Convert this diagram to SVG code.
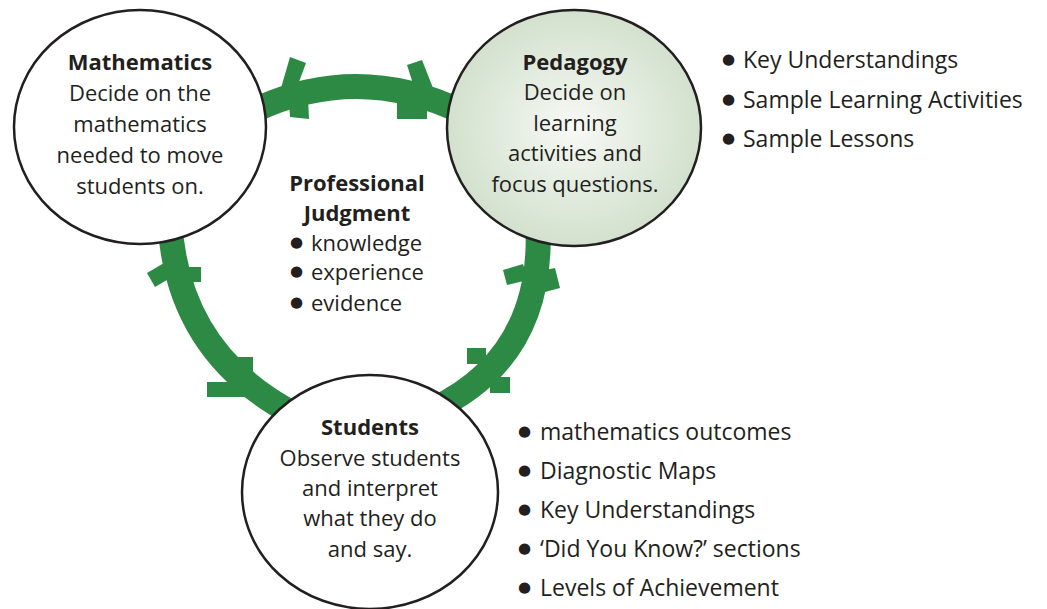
<svg xmlns="http://www.w3.org/2000/svg" width="1047" height="609" viewBox="0 0 1047 609">
<defs>
<radialGradient id="pedGrad" cx="0.5" cy="0.5" r="0.5">
<stop offset="0" stop-color="#f7f9f5"/>
<stop offset="1" stop-color="#d2e1cd"/>
</radialGradient>
<style>
text{font-family:"Open Sans","Noto Sans","DejaVu Sans",sans-serif;font-size:22px;fill:#231f20}
.b{font-weight:bold}
.c{text-anchor:middle}
.l{font-size:23px}
.dot{font-family:"DejaVu Sans",sans-serif;font-size:15px}
.node{stroke:#231f20;stroke-width:2.5}
.arc{fill:none;stroke:#2d8a45;stroke-width:25}
.tab{fill:#2d8a45}
</style>
</defs>
<rect width="1047" height="609" fill="#ffffff"/>
<g id="connectors">
<path class="arc" d="M255,110 Q358,62 462,112"/>
<path class="arc" d="M170,225 Q179,356 298,416"/>
<path class="arc" d="M538,228 Q543,358 432,410"/>
<polygon class="tab" points="290,57 306,63 296,90 279,95"/>
<polygon class="tab" points="289,100 308,98 309,119 290,117"/>
<polygon class="tab" points="407,65 422,60 433,88 416,93"/>
<polygon class="tab" points="397,100 427,100 427,119 397,119"/>
<polygon class="tab" points="147,273 155,287 172,277 164,263"/>
<polygon class="tab" points="185,267 201,267 201,282 186,282"/>
<polygon class="tab" points="228,357 253,357 253,377 240,377"/>
<polygon class="tab" points="207,382 240,382 245,397 207,397"/>
<polygon class="tab" points="503,270 523,264 528,280 507,285"/>
<polygon class="tab" points="540,271 555,268 560,288 541,293"/>
<polygon class="tab" points="467,348 486,348 486,364 467,364"/>
<polygon class="tab" points="490,377 510,377 510,393 490,393"/>
</g>
<g id="mathematics">
<ellipse class="node" cx="140" cy="127" rx="126" ry="117" fill="#ffffff"/>
<text class="b c" x="140" y="70">Mathematics</text>
<text class="c" x="140" y="101">Decide on the</text>
<text class="c" x="140" y="132">mathematics</text>
<text class="c" x="140" y="163">needed to move</text>
<text class="c" x="140" y="194">students on.</text>
</g>
<g id="pedagogy">
<ellipse class="node" cx="574" cy="128" rx="127" ry="118" fill="url(#pedGrad)"/>
<text class="b c" x="575" y="70">Pedagogy</text>
<text class="c" x="575" y="100">Decide on</text>
<text class="c" x="575" y="131">learning</text>
<text class="c" x="575" y="161">activities and</text>
<text class="c" x="575" y="192">focus questions.</text>
</g>
<g id="students">
<ellipse class="node" cx="370" cy="492" rx="128" ry="117" fill="#ffffff"/>
<text class="b c" x="370" y="435">Students</text>
<text class="c" x="370" y="466">Observe students</text>
<text class="c" x="370" y="496">and interpret</text>
<text class="c" x="370" y="526">what they do</text>
<text class="c" x="370" y="557">and say.</text>
</g>
<g id="judgment">
<text class="b c" x="357" y="191">Professional</text>
<text class="b c" x="357" y="221">Judgment</text>
<text x="290" y="251"><tspan class="dot" dy="-4">●</tspan><tspan x="311" dy="4">knowledge</tspan></text>
<text x="290" y="280"><tspan class="dot" dy="-4">●</tspan><tspan x="311" dy="4">experience</tspan></text>
<text x="290" y="311"><tspan class="dot" dy="-4">●</tspan><tspan x="311" dy="4">evidence</tspan></text>
</g>
<g id="pedagogy-list">
<text class="l" x="722" y="68"><tspan class="dot" dy="-4">●</tspan><tspan x="743" dy="4">Key Understandings</tspan></text>
<text class="l" x="722" y="108"><tspan class="dot" dy="-4">●</tspan><tspan x="743" dy="4">Sample Learning Activities</tspan></text>
<text class="l" x="722" y="147"><tspan class="dot" dy="-4">●</tspan><tspan x="743" dy="4">Sample Lessons</tspan></text>
</g>
<g id="students-list">
<text class="l" x="518" y="440"><tspan class="dot" dy="-4">●</tspan><tspan x="540" dy="4">mathematics outcomes</tspan></text>
<text class="l" x="518" y="479"><tspan class="dot" dy="-4">●</tspan><tspan x="540" dy="4">Diagnostic Maps</tspan></text>
<text class="l" x="518" y="518"><tspan class="dot" dy="-4">●</tspan><tspan x="540" dy="4">Key Understandings</tspan></text>
<text class="l" x="518" y="557"><tspan class="dot" dy="-4">●</tspan><tspan x="540" dy="4">‘Did You Know?’ sections</tspan></text>
<text class="l" x="518" y="596"><tspan class="dot" dy="-4">●</tspan><tspan x="540" dy="4">Levels of Achievement</tspan></text>
</g>
</svg>
